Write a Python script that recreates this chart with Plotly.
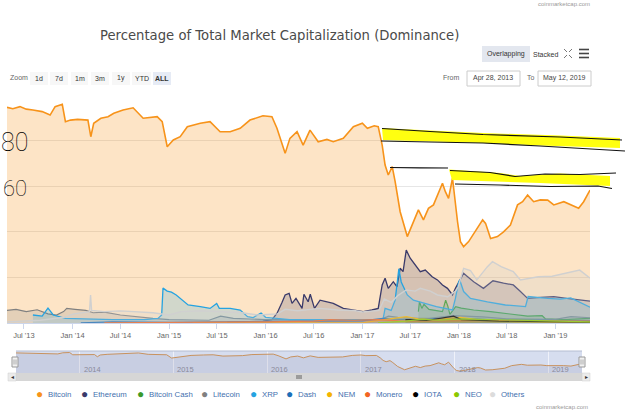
import plotly.graph_objects as go

# ---------------- data (dominance, % of total market cap) ----------------
btc_dates = ["2013-04-28","2013-05-20","2013-06-16","2013-07-10","2013-08-04","2013-09-08","2013-10-08","2013-10-27",
             "2013-11-23","2013-12-05","2013-12-24","2014-01-20","2014-02-28","2014-03-11","2014-03-22","2014-04-18",
             "2014-05-15","2014-06-06","2014-07-11","2014-08-18","2014-09-25","2014-10-20","2014-11-17","2014-12-06",
             "2014-12-25","2015-01-17","2015-02-12","2015-03-11","2015-04-29","2015-06-05","2015-07-13","2015-08-20",
             "2015-09-27","2015-11-03","2015-12-22","2016-01-25","2016-02-13","2016-03-15","2016-04-02","2016-04-29",
             "2016-05-22","2016-06-17","2016-07-18","2016-08-20","2016-09-13","2016-10-21","2016-11-28","2017-01-01",
             "2017-01-20","2017-02-15","2017-03-02","2017-03-17","2017-03-28","2017-04-09","2017-04-24","2017-05-05",
             "2017-05-24","2017-06-20","2017-07-13","2017-08-01","2017-08-20","2017-09-08","2017-09-27","2017-10-16",
             "2017-10-31","2017-11-11","2017-11-23","2017-12-08","2017-12-19","2017-12-27","2018-01-07","2018-01-19",
             "2018-02-07","2018-02-26","2018-04-01","2018-04-12","2018-05-01","2018-05-27","2018-06-19","2018-07-15",
             "2018-08-11","2018-08-30","2018-09-18","2018-10-11","2018-11-05","2018-12-03","2018-12-26","2019-02-02",
             "2019-02-28","2019-03-30","2019-04-18","2019-05-12"]
btc_vals = [94.6,94.0,94.9,93.8,93.4,92.7,91.2,94.9,
            95.9,88.3,89.0,89.3,89.0,81.7,87.6,89.8,
            90.5,92.0,93.4,94.4,89.8,90.0,90.5,88.3,
            77.3,80.3,81.7,86.1,87.6,88.3,83.9,83.9,
            85.4,89.0,90.9,90.5,85.4,74.4,81.0,83.9,
            78.0,84.6,79.5,80.5,79.5,81.0,86.1,87.6,
            85.4,86.5,86.1,78.0,69.3,64.9,68.6,62.0,
            48.8,37.9,44.4,49.6,45.2,50.3,51.8,56.9,
            61.3,57.6,54.7,63.5,51.8,44.4,35.7,33.5,
            35.7,39.3,45.2,43.7,37.1,37.9,40.0,43.0,
            51.8,53.2,56.1,53.2,54.0,53.9,51.8,53.2,
            51.8,50.3,53.2,58.3]

eth_dates = ["2015-08-08","2015-09-27","2015-11-03","2015-12-22","2016-01-25","2016-02-13","2016-03-03","2016-03-15",
             "2016-03-30","2016-04-10","2016-04-25","2016-05-18","2016-05-25","2016-06-10","2016-06-18","2016-07-04",
             "2016-07-25","2016-09-13","2016-10-21","2016-11-28","2017-01-04","2017-02-06","2017-03-02","2017-03-17",
             "2017-03-28","2017-04-09","2017-04-28","2017-05-12","2017-05-24","2017-06-04","2017-06-16","2017-07-01",
             "2017-07-20","2017-08-08","2017-08-27","2017-09-22","2017-10-12","2017-10-31","2017-11-19","2017-12-08",
             "2017-12-19","2018-01-07","2018-01-19","2018-02-01","2018-02-26","2018-04-04","2018-05-10","2018-06-19",
             "2018-07-26","2018-08-20","2018-09-18","2018-11-05","2018-12-26","2019-02-13","2019-04-03","2019-05-12"]
eth_vals = [0.3,0.5,0.6,0.8,1.5,4.2,9.0,12.3,
            13.0,8.6,10.8,6.4,12.6,9.3,12.6,6.4,
            10.0,8.6,6.4,5.7,5.0,5.7,6.4,16.7,
            19.6,15.2,18.1,15.9,24.0,22.5,32.0,28.4,
            25.4,22.5,23.2,20.3,18.9,16.7,15.2,12.3,
            15.2,18.9,21.8,20.5,18.1,15.2,18.5,17.5,
            16.7,14.0,10.8,11.2,11.6,10.8,10.0,9.6]

bch_dates = ["2017-08-01","2017-08-05","2017-08-14","2017-08-22","2017-09-10","2017-09-27","2017-10-31","2017-11-12",
             "2017-11-20","2017-11-28","2017-12-20","2018-01-10","2018-02-26","2018-05-01","2018-06-01","2018-09-18",
             "2018-11-12","2018-11-25","2019-02-01","2019-05-12"]
bch_vals = [5.0,9.3,6.4,8.2,6.0,5.7,5.0,10.0,
            7.5,3.8,7.2,6.5,5.7,5.0,4.6,3.0,
            3.2,1.8,1.5,2.0]

ltc_dates = ["2013-04-28","2013-06-01","2013-07-10","2013-08-20","2013-09-30","2013-11-01","2013-11-28","2013-12-10",
             "2014-01-10","2014-02-20","2014-03-20","2014-05-01","2014-07-01","2014-09-01","2014-11-01","2015-01-01",
             "2015-03-15","2015-06-01","2015-07-15","2015-09-01","2016-01-01","2016-07-01","2017-01-01","2017-03-10",
             "2017-04-10","2017-05-15","2017-08-01","2017-09-10","2017-12-12","2018-01-15","2018-04-01","2018-07-01",
             "2018-11-01","2019-01-01","2019-03-01","2019-05-12"]
ltc_vals = [5.5,6.0,5.0,5.8,4.0,3.5,5.0,6.4,
            6.0,5.5,4.5,4.8,3.5,2.6,2.0,1.5,
            1.5,1.2,3.0,2.0,1.5,1.5,1.4,1.5,
            3.0,2.5,2.0,2.0,3.2,3.0,2.7,1.8,
            1.6,1.6,2.8,2.3]

xrp_dates = ["2013-08-04","2013-09-08","2013-09-30","2013-10-20","2013-12-05","2014-02-01","2014-06-01","2014-10-01",
             "2014-11-20","2014-12-04","2014-12-09","2014-12-25","2015-01-10","2015-01-28","2015-02-12","2015-03-14",
             "2015-04-29","2015-06-05","2015-06-30","2015-07-10","2015-08-20","2015-09-27","2015-10-25","2015-11-15",
             "2015-12-15","2016-01-01","2016-04-01","2016-07-25","2016-10-01","2017-01-01","2017-03-20","2017-03-28",
             "2017-04-20","2017-05-05","2017-05-19","2017-05-28","2017-06-20","2017-07-13","2017-08-25","2017-10-08",
             "2017-12-08","2017-12-19","2017-12-30","2018-01-04","2018-01-19","2018-02-14","2018-04-19","2018-06-26",
             "2018-09-10","2018-09-20","2018-12-03","2019-01-20","2019-02-28","2019-05-12"]
xrp_vals = [3.5,3.0,6.5,3.5,2.0,1.8,1.5,1.5,
            2.0,3.5,15.3,14.0,13.5,12.3,10.8,7.9,
            7.2,6.4,8.6,6.4,6.4,5.7,2.8,2.4,
            4.4,2.5,1.5,1.7,1.5,1.2,1.5,6.4,
            5.5,10.0,23.8,18.0,12.3,10.0,8.6,7.2,
            5.7,10.8,17.4,19.0,13.8,10.8,9.3,7.9,
            7.2,11.6,10.8,10.5,11.0,6.9]

dash_dates = ["2014-02-01","2014-06-01","2015-01-01","2015-06-01","2016-01-01","2016-03-15","2016-06-01","2017-01-01",
              "2017-03-20","2017-06-01","2017-10-01","2018-01-01","2018-06-01","2018-11-01","2019-05-12"]
dash_vals = [0.1,0.5,0.3,0.5,0.6,1.0,0.8,0.9,
             2.0,1.6,2.0,2.0,1.3,1.2,0.9]

nem_dates = ["2015-04-01","2016-01-01","2017-01-01","2017-03-25","2017-05-20","2017-06-16","2017-08-01","2017-10-01",
             "2018-01-07","2018-04-01","2018-08-01","2019-05-12"]
nem_vals = [0.05,0.1,0.1,1.5,2.5,2.8,1.8,1.5,2.5,1.2,0.6,0.3]

xmr_dates = ["2014-05-01","2015-01-01","2016-01-01","2016-07-01","2016-09-01","2016-12-01","2017-03-01","2017-06-01",
             "2017-12-01","2018-06-01","2019-05-12"]
xmr_vals = [0.1,0.2,0.5,0.8,1.5,1.2,1.5,0.8,1.0,1.0,0.8]

iota_dates = ["2017-06-13","2017-07-01","2017-09-01","2017-12-05","2017-12-12","2018-01-10","2018-06-01","2019-05-12"]
iota_vals = [1.5,1.5,1.1,2.8,3.0,1.5,0.8,0.4]

neo_dates = ["2017-03-01","2017-06-15","2017-08-15","2017-10-15","2018-01-15","2018-06-01","2019-05-12"]
neo_vals = [0.1,0.8,1.7,1.2,1.8,1.4,0.5]

oth_dates = ["2013-04-28","2013-09-01","2013-12-01","2014-01-05","2014-03-06","2014-03-10","2014-03-14","2014-05-01",
             "2014-07-01","2014-09-01","2014-11-01","2015-01-01","2015-02-15","2015-05-01","2015-07-01","2015-09-27",
             "2015-12-01","2016-02-15","2016-03-15","2016-05-01","2016-07-25","2016-10-01","2016-12-01","2017-01-01",
             "2017-03-05","2017-03-25","2017-04-20","2017-05-15","2017-06-16","2017-07-20","2017-08-08","2017-09-15",
             "2017-10-12","2017-11-20","2017-12-20","2017-12-30","2018-01-19","2018-02-14","2018-03-10","2018-04-19",
             "2018-05-08","2018-06-10","2018-07-26","2018-08-22","2018-10-28","2018-12-20","2019-04-03","2019-05-12"]
oth_vals = [0.5,1.2,2.5,4.0,5.0,12.3,5.5,5.0,
            5.3,5.0,4.5,3.5,5.0,5.4,5.0,4.6,
            3.5,4.0,6.0,5.4,6.4,5.7,5.5,4.8,
            5.5,10.5,9.0,12.0,14.5,14.0,15.2,14.0,
            12.3,11.5,14.0,16.0,24.0,23.0,18.9,24.7,
            26.9,24.7,22.5,18.9,20.3,20.5,23.2,19.7]

series_names = ["Bitcoin","Ethereum","Bitcoin Cash","Litecoin","XRP","Dash","NEM","Monero","IOTA","NEO","Others"]
series_x = [btc_dates, eth_dates, bch_dates, ltc_dates, xrp_dates, dash_dates, nem_dates, xmr_dates, iota_dates, neo_dates, oth_dates]
series_y = [btc_vals, eth_vals, bch_vals, ltc_vals, xrp_vals, dash_vals, nem_vals, xmr_vals, iota_vals, neo_vals, oth_vals]

x_start, x_end = "2013-04-28", "2019-05-12"
nav_years = ["2014", "2015", "2016", "2017", "2018", "2019"]
zoom_buttons = ["1d", "7d", "1m", "3m", "1y", "YTD", "ALL"]

# ---------------- styles ----------------
line_colors = ["#f7931a","#3a3a6a","#3b9a2b","#808080","#25a3e1","#1c6fb8","#f4b400","#f26522","#000000","#8cc800","#d0d0d0"]
fill_colors = ["rgba(247,147,26,0.25)","rgba(58,58,106,0.2)","rgba(59,154,43,0.2)","rgba(128,128,128,0.2)",
               "rgba(37,163,225,0.2)","rgba(28,111,184,0.2)","rgba(244,180,0,0.2)","rgba(242,101,34,0.2)",
               "rgba(0,0,0,0.12)","rgba(140,200,0,0.2)","rgba(208,208,208,0.25)"]
line_widths = [1.6,1.3,1.2,1.2,1.3,1.2,1.2,1.2,1.2,1.2,1.4]
legend_dot_x = [39, 84, 140, 204, 253, 289, 329, 367, 415, 456, 492]

W, H = 625, 415
ML, MR, MT, MB = 7, 35, 95, 5
PW = W - ML - MR
PH = H - MT - MB

def fx(x):
    return (x - ML) / PW

def fy(y):
    return (H - MB - y) / PH

FONT = "Liberation Sans"

fig = go.Figure()
for name, xs, ys, lc, fc, lw in zip(series_names, series_x, series_y, line_colors, fill_colors, line_widths):
    fig.add_trace(go.Scatter(x=xs, y=ys, name=name, mode="lines", fill="tozeroy",
                             line=dict(color=lc, width=lw), fillcolor=fc, showlegend=False,
                             xaxis="x", yaxis="y"))

# navigator series
fig.add_trace(go.Scatter(x=btc_dates, y=btc_vals, mode="lines", fill="tozeroy",
                         line=dict(color="#c8925e", width=1), fillcolor="rgba(110,105,140,0.13)",
                         showlegend=False, xaxis="x2", yaxis="y2"))

shapes = []
ann = []

def rect(x0, y0, x1, y1, fill, line=None, lw=0, layer="above"):
    shapes.append(dict(type="rect", xref="paper", yref="paper", x0=fx(x0), x1=fx(x1), y0=fy(y1), y1=fy(y0),
                       fillcolor=fill, line=dict(color=line or fill, width=lw), layer=layer))

def seg(x0, y0, x1, y1, color, w=1):
    shapes.append(dict(type="line", xref="paper", yref="paper", x0=fx(x0), x1=fx(x1), y0=fy(y0), y1=fy(y1),
                       line=dict(color=color, width=w)))

def poly(pts, fill=None, color=None, w=1, closed=False):
    p = "M " + " L ".join(f"{fx(a):.5f},{fy(b):.5f}" for a, b in pts)
    if closed:
        p += " Z"
    shapes.append(dict(type="path", xref="paper", yref="paper", path=p,
                       fillcolor=fill if fill else "rgba(0,0,0,0)",
                       line=dict(color=color if color else "rgba(0,0,0,0)", width=w)))

def text(x, y, s, size=7.5, color="#333", xanchor="center", family=FONT, weight=None, **kw):
    f = dict(size=size, color=color, family=family)
    if weight is not None:
        f["weight"] = weight
    ann.append(dict(x=fx(x), y=fy(y), xref="paper", yref="paper", text=s, showarrow=False,
                    xanchor=xanchor, yanchor="middle", font=f, **kw))

# title & header
text(279, 35, "Percentage of Total Market Capitalization (Dominance)", size=13.2, color="#4a4a4a",
     family="DejaVu Sans")
text(592, 4, "coinmarketcap.com", size=6, color="#999", xanchor="right")
rect(482, 46, 530, 62, "#e3e7ef")
text(506, 54, "Overlapping", size=7, color="#333")
text(545, 54, "Stacked", size=7, color="#333")
for (a, b, c, d) in [(564, 49, 567, 52), (572, 49, 569, 52), (564, 58, 567, 55), (572, 58, 569, 55)]:
    seg(a, b, c, d, "#777", 1)
for yy in (49.5, 53.5, 57.5):
    seg(579, yy, 589, yy, "#444", 1.6)

# zoom row
text(8, 78, "Zoom", size=7, color="#666", xanchor="left")
btn_x = [(30, 48), (50, 68), (71, 88), (91, 109), (112, 130), (132, 151), (153, 171)]
for lab, (a, b) in zip(zoom_buttons, btn_x):
    rect(a, 72, b, 85, "#e6ebf5" if lab == "ALL" else "#f7f7f7")
    text((a + b) / 2, 78.5, f"<b>{lab}</b>" if lab == "ALL" else lab, size=7, color="#333")
text(462, 78, "From", size=7, color="#666", xanchor="right")
rect(467, 71, 520, 86, "#ffffff", "#cccccc", 1)
text(493.5, 78.5, "Apr 28, 2013", size=7, color="#444")
text(531, 78, "To", size=7, color="#666")
rect(538, 71, 591, 86, "#ffffff", "#cccccc", 1)
text(564.5, 78.5, "May 12, 2019", size=7, color="#444")

# navigator frame
shapes.append(dict(type="rect", xref="paper", yref="paper", x0=fx(16), x1=fx(582), y0=fy(373), y1=fy(351),
                   fillcolor="#d6ddef", line=dict(width=0), layer="below"))
seg(16, 351, 582, 351, "#b4bdd2", 1)
for hx in (15, 582):
    rect(hx - 3, 357, hx + 3, 367, "#f2f2f2", "#999999", 1)
    seg(hx - 1, 359.5, hx - 1, 364.5, "#999", 0.8)
    seg(hx + 1, 359.5, hx + 1, 364.5, "#999", 0.8)
for yr in nav_years:
    ann.append(dict(x=f"{yr}-01-01", y=fy(369), xref="x2", yref="paper", text=yr, showarrow=False,
                    xanchor="left", yanchor="middle", xshift=2, font=dict(size=7.5, color="#8a8a99", family=FONT)))
# scrollbar
rect(8, 373, 590, 381, "#f2f2f2")
rect(16, 373, 582, 381, "#d6d6d6")
rect(8, 373, 16, 381, "#ebebeb", "#cccccc", 0.5)
rect(582, 373, 590, 381, "#ebebeb", "#cccccc", 0.5)
text(12, 377, "◂", size=6, color="#333")
text(586, 377, "▸", size=6, color="#333")
for gx in (297, 299, 301):
    seg(gx, 375, gx, 379, "#444", 0.8)

# legend
for name, c, dx in zip(series_names, line_colors, legend_dot_x):
    dot = "#dcdcdc" if name == "Others" else c
    text(dx, 393.5, "●", size=12, color=dot)
    text(dx + 7, 394, name, size=7.8, color="#3f6fae", xanchor="left")
text(590, 407, "coinmarketcap.com", size=6, color="#999", xanchor="right")

# hand-drawn markup
poly([(382, 128), (430, 130.5), (483, 133), (560, 135.5), (620, 138), (620, 148), (540, 145.5), (483, 143), (383, 140)],
     fill="#ffff10", closed=True)
poly([(449, 169.5), (500, 173), (520, 176), (560, 173.5), (610, 176), (610, 186), (540, 183), (452, 180)],
     fill="#ffff10", closed=True)
poly([(382, 128.5), (430, 131.5), (483, 134.5), (560, 137), (622, 140)], color="#111", w=1.2)
poly([(381, 141), (430, 142), (483, 143), (540, 146), (625, 151)], color="#111", w=1.2)
poly([(390, 167.5), (420, 167.8), (448, 168)], color="#111", w=1.2)
poly([(450, 170.5), (490, 172.5), (515, 176.5), (545, 174), (580, 174.5), (616, 173)], color="#111", w=1.2)
poly([(455, 184), (500, 185), (550, 186.5), (598, 186), (612, 188.5)], color="#111", w=1.2)
text(14, 142, "80", size=25, color="#000", family="Roboto", weight=100)
text(15, 188, "60", size=22, color="#000", family="Roboto", weight=100)

fig.update_layout(
    width=W, height=H,
    margin=dict(l=ML, r=MR, t=MT, b=MB, pad=0),
    paper_bgcolor="white", plot_bgcolor="white",
    showlegend=False, hovermode=False,
    xaxis=dict(domain=[0, 1], anchor="y", range=[x_start, x_end], type="date",
               tick0="2013-07-01", dtick="M6", tickformat="%b '%y",
               showgrid=False, showline=True, linecolor="#ccd6eb", linewidth=1,
               ticks="outside", ticklen=5, tickcolor="#ccd6eb",
               tickfont=dict(size=7.5, color="#666", family=FONT), zeroline=False),
    yaxis=dict(domain=[fy(323), fy(95)], anchor="x", range=[0, 100], dtick=20,
               showticklabels=False, showgrid=True, gridcolor="#e6e6e6", gridwidth=1, zeroline=False),
    xaxis2=dict(domain=[fx(16), fx(582)], anchor="y2", range=[x_start, x_end], type="date",
                tick0="2014-01-01", dtick="M12", showticklabels=False, showgrid=True,
                gridcolor="rgba(255,255,255,0.6)", showline=False, zeroline=False, ticks=""),
    yaxis2=dict(domain=[fy(373), fy(351)], anchor="x2", range=[27, 101],
                showticklabels=False, showgrid=False, zeroline=False),
    shapes=shapes, annotations=ann,
)

fig.write_html("out.html")
